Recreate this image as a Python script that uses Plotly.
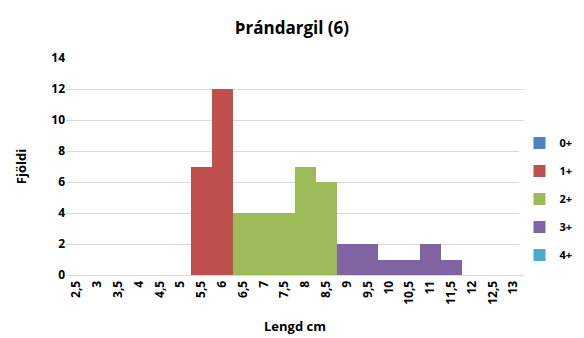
import plotly.graph_objects as go

categories = ["2,5", "3", "3,5", "4", "4,5", "5", "5,5", "6", "6,5", "7", "7,5", "8",
              "8,5", "9", "9,5", "10", "10,5", "11", "11,5", "12", "12,5", "13"]
s0 = [None] * 22
s1 = [None, None, None, None, None, None, 7, 12, None, None, None, None,
      None, None, None, None, None, None, None, None, None, None]
s2 = [None, None, None, None, None, None, None, None, 4, 4, 4, 7,
      6, None, None, None, None, None, None, None, None, None]
s3 = [None, None, None, None, None, None, None, None, None, None, None, None,
      None, 2, 2, 1, 1, 2, 1, None, None, None]
s4 = [None] * 22

series = [("0+", s0, "#4F81BD"), ("1+", s1, "#C0504D"), ("2+", s2, "#9BBB59"),
          ("3+", s3, "#8064A2"), ("4+", s4, "#4BACC6")]

font = "Open Sans"
fig = go.Figure()
for name, vals, col in series:
    fig.add_trace(go.Bar(x=categories, y=vals, name="<b>" + name + "</b>", marker_color=col,
                         marker_line_width=0, legendgroup=name))

# the page body adds an 8px offset; figure is sized to fit the window
fig.update_layout(
    barmode="stack", bargap=0,
    width=576, height=330,
    margin=dict(l=58, r=60, t=50, b=63, autoexpand=False),
    paper_bgcolor="white", plot_bgcolor="white",
    font=dict(family=font, color="#000000"),
    title=dict(text="<b>Þrándargil (6)</b>", x=0.493, xanchor="center", y=0.939, yanchor="middle",
               font=dict(size=17, family=font)),
    legend=dict(xref="container", yref="container", x=0.888, y=0.421, xanchor="left", yanchor="middle",
                tracegroupgap=9, font=dict(size=11, family=font), itemwidth=30),
    xaxis=dict(type="category", categoryorder="array", categoryarray=categories,
               tickangle=-90, tickfont=dict(size=12, family=font), showgrid=False,
               showline=True, linecolor="#D9D9D9", ticks="", automargin=False,
               tickprefix="<b>", ticksuffix="</b>",
               title=dict(text="<b>Lengd cm</b>", font=dict(size=13, family=font), standoff=18)),
    yaxis=dict(range=[0, 14], dtick=2, showgrid=True, gridcolor="#D9D9D9",
               tickfont=dict(size=12, family=font), zeroline=False, ticks="", automargin=False,
               tickprefix="<b>", ticksuffix="</b>",
               title=dict(text="<b>Fjöldi</b>", font=dict(size=13, family=font), standoff=21)),
)
fig.write_html("out.html")
